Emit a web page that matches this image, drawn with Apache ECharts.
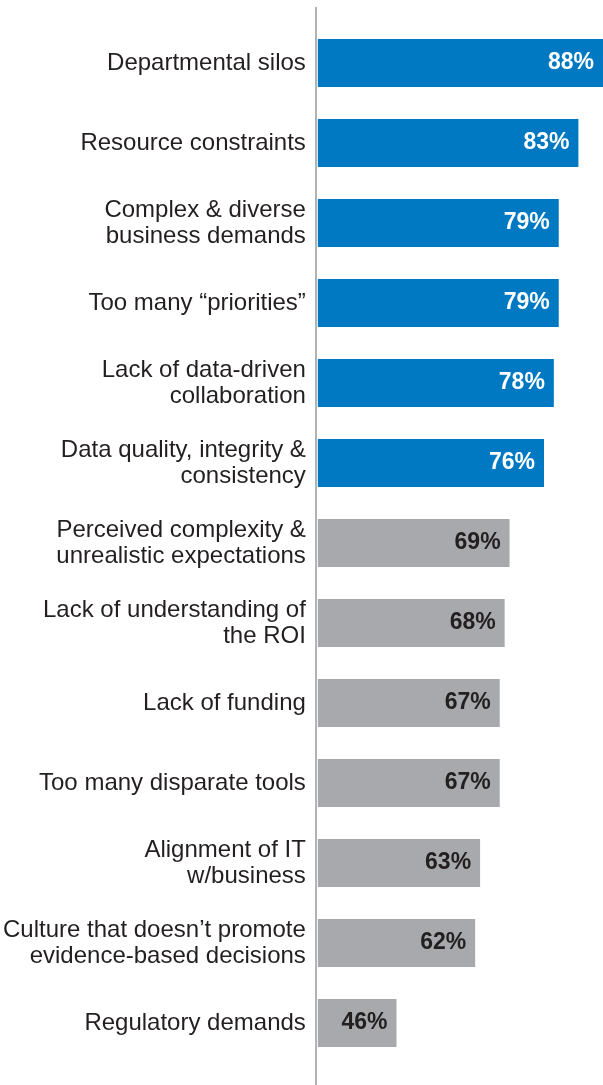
<!DOCTYPE html>
<html><head><meta charset="utf-8">
<style>html,body{margin:0;padding:0;background:#fff}#c{width:603px;height:1085px}</style>
<script src="https://cdn.jsdelivr.net/npm/echarts@6/dist/echarts.min.js"></script>
</head><body><div id="c"></div>
<script>
const categories = [
  "Departmental silos",
  "Resource constraints",
  "Complex & diverse\nbusiness demands",
  "Too many \u201cpriorities\u201d",
  "Lack of data-driven\ncollaboration",
  "Data quality, integrity &\nconsistency",
  "Perceived complexity &\nunrealistic expectations",
  "Lack of understanding of\nthe ROI",
  "Lack of funding",
  "Too many disparate tools",
  "Alignment of IT\nw/business",
  "Culture that doesn\u2019t promote\nevidence-based decisions",
  "Regulatory demands"
];
const values = [88, 83, 79, 79, 78, 76, 69, 68, 67, 67, 63, 62, 46];
const highlighted = [true, true, true, true, true, true, false, false, false, false, false, false, false];

const BLUE = '#0079c2', GRAY = '#a7a9ac', DARK = '#231f20';
const chart = echarts.init(document.getElementById('c'));
chart.setOption({
  animation: false,
  grid: {left: 317, right: 0, top: 23, bottom: 22, containLabel: false},
  xAxis: {type: 'value', min: 30, max: 88, show: false},
  yAxis: {
    type: 'category', data: categories, inverse: true,
    axisLine: {show: false}, axisTick: {show: false},
    axisLabel: {margin: 12, fontFamily: 'Liberation Sans, Arial, sans-serif', fontSize: 24, color: DARK, lineHeight: 26, align: 'right', padding: [3, 0, 0, 0]}
  },
  graphic: [{type: 'rect', shape: {x: 315, y: 7, width: 2, height: 1078}, style: {fill: '#b1b3b6'}, z: 10}],
  series: [{
    type: 'bar', barWidth: 48,
    data: values.map((v, i) => ({
      value: v,
      itemStyle: {color: highlighted[i] ? BLUE : GRAY},
      label: {color: highlighted[i] ? '#ffffff' : DARK}
    })),
    label: {show: true, position: 'insideRight', distance: 9, formatter: '{c}%', fontFamily: 'Liberation Sans, Arial, sans-serif', fontSize: 23, fontWeight: 'bold', padding: [3, 0, 0, 0]}
  }]
});
</script></body></html>
